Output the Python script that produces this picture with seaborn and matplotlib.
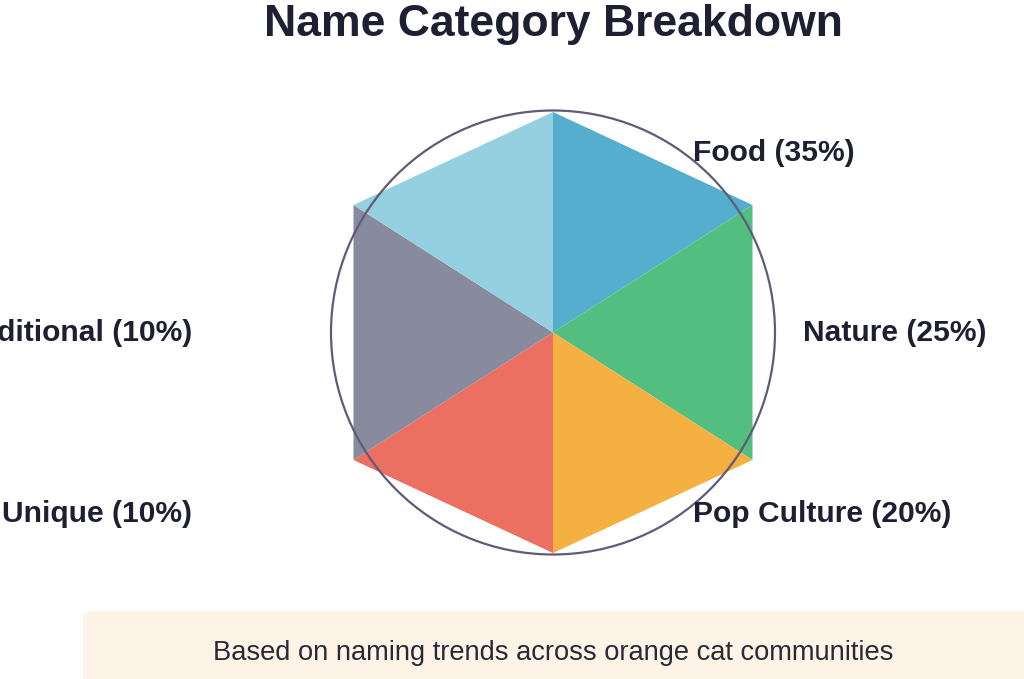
import numpy as np
import matplotlib
matplotlib.use("Agg")
import matplotlib.pyplot as plt
from matplotlib.patches import Circle, FancyBboxPatch
import seaborn as sns

# data
categories = ["Food", "Nature", "Pop Culture", "Unique", "Traditional", ""]
shares = [35, 25, 20, 10, 10, None]
colors = ["#55aecd", "#52be80", "#f4b040", "#eb7062", "#878b9d", "#95d0e0"]

title = "Name Category Breakdown"
caption = "Based on naming trends across orange cat communities"

sns.set_theme(style="white")
plt.rcParams["font.family"] = ["Liberation Sans", "DejaVu Sans"]

# layout (units: hexagon radius = 1, 1 unit = 220.5 px)
S = 220.5
half_w = 199.5 / S
shoulder = 127.5 / S
hex_pts = [(0, 1), (half_w, shoulder), (half_w, -shoulder),
           (0, -1), (-half_w, -shoulder), (-half_w, shoulder)]
label_pos = [(0.635, 0.78, "left"), (1.134, -0.04, "left"), (0.635, -0.86, "left"),
             (-1.637, -0.86, "right"), (-1.637, -0.04, "right"), None]
ink = "#1f1f33"

fig = plt.figure(figsize=(10.24, 6.79), dpi=100)
ax = fig.add_axes([0, 0, 1, 1])
ax.set_xlim(-553 / S, (1024 - 553) / S)
ax.set_ylim(-(679 - 332.5) / S, 332.5 / S)
ax.axis("off")

for i, (cat, val, col) in enumerate(zip(categories, shares, colors)):
    p1 = hex_pts[i]
    p2 = hex_pts[(i + 1) % 6]
    ax.fill([0, p1[0], p2[0]], [0, p1[1], p2[1]], color=col, lw=0, zorder=2)
    if cat and label_pos[i] is not None:
        x, y, ha = label_pos[i]
        ax.text(x, y, f"{cat} ({val}%)", ha=ha, va="baseline",
                fontsize=21.6, fontweight="bold", color=ink, zorder=4)

ax.add_patch(Circle((0, 0), 222 / S, fill=False, ec="#5f5b78", lw=1.6, zorder=3))

ax.text(0, (332.5 - 36) / S, title, ha="center", va="baseline",
        fontsize=32, fontweight="bold", color=ink)

box = FancyBboxPatch((-470 / S, -(700 - 332.5) / S), 1000 / S, 89 / S,
                     boxstyle="round,pad=0,rounding_size=0.04",
                     fc="#fdf3e6", ec="none", zorder=1)
ax.add_patch(box)
ax.text(0, -(660 - 332.5) / S, caption, ha="center", va="baseline",
        fontsize=19.6, color="#2a2a35", zorder=2)

fig.savefig("out.png", dpi=100)
